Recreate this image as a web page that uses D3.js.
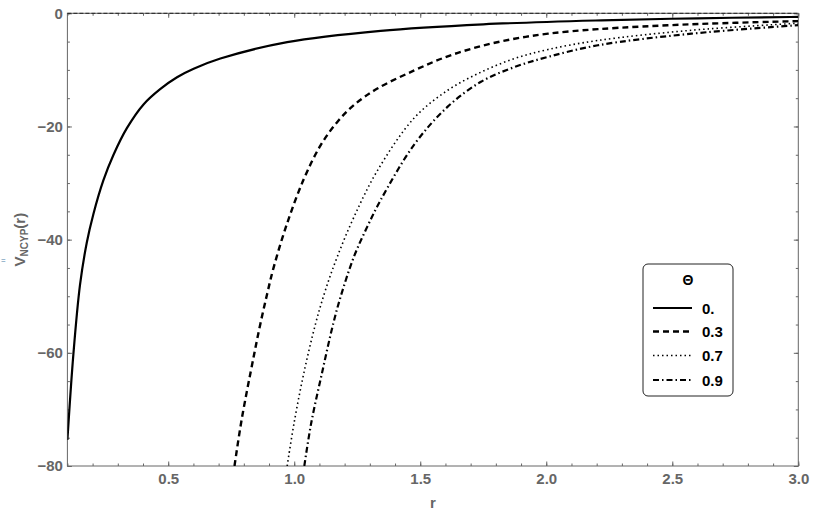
<!DOCTYPE html>
<html>
<head>
<meta charset="utf-8">
<script src="https://d3js.org/d3.v7.min.js"></script>
<style>
  body { margin: 0; background: #fff; }
  text { font-family: "Liberation Sans", Arial, sans-serif; font-weight: bold; }
</style>
</head>
<body>
<div id="chart"></div>
<script>
(function(d3) {
  'use strict';

  // values, r and V for each theta
  var thetaLabels = ['0.', '0.3', '0.7', '0.9'];

  var r0 = [0.1, 0.124, 0.15, 0.177, 0.203, 0.243, 0.283, 0.336, 0.402, 0.468, 0.535, 0.601, 0.707, 0.972, 1.343, 1.75, 2.219, 2.6, 2.97, 3.0];
  var v0 = [-75.4, -60.1, -48.0, -40.5, -35.5, -29.5, -25.0, -20.3, -16.1, -13.4, -11.3, -9.8, -8.0, -5.1, -3.1, -1.95, -1.24, -0.88, -0.65, -0.63];

  var r3 = [0.763, 0.791, 0.839, 0.866, 0.893, 0.919, 0.972, 1.038, 1.105, 1.171, 1.237, 1.33, 1.476, 1.609, 1.741, 1.874, 2.007, 2.205, 2.576, 3.0];
  var v3 = [-80, -71.9, -60.7, -54.8, -49.5, -44.8, -37.1, -29.3, -23.3, -19.2, -16.2, -13.3, -10.1, -7.6, -5.8, -4.5, -3.6, -2.8, -1.94, -1.38];

  var r7 = [0.972, 0.999, 1.038, 1.085, 1.124, 1.171, 1.237, 1.33, 1.476, 1.609, 1.741, 1.874, 2.007, 2.205, 2.576, 3.0];
  var v7 = [-80, -72.5, -63.6, -54.8, -48.9, -43.0, -36.0, -27.8, -18.5, -13.6, -10.4, -8.0, -6.4, -4.8, -3.0, -1.75];

  var r9 = [1.040, 1.067, 1.110, 1.155, 1.184, 1.237, 1.290, 1.343, 1.476, 1.609, 1.741, 1.874, 2.007, 2.205, 2.576, 3.0];
  var v9 = [-80, -72.5, -63.6, -54.8, -50.1, -43.0, -37.7, -33.0, -23.2, -16.5, -12.1, -9.5, -7.7, -5.65, -3.6, -2.1];

  var xTicks = [0.5, 1.0, 1.5, 2.0, 2.5, 3.0];
  var yTicks = [0, -20, -40, -60, -80];

  var width = 839;
  var height = 513;
  var left = 67.4, right = 798.3, top = 13.3, bottom = 466;

  var x = d3.scaleLinear().domain([0.1, 3.0]).range([left, right]);
  var y = d3.scaleLinear().domain([-80, 0]).range([bottom, top]);

  var svg = d3.select('#chart')
    .append('svg')
    .attr('width', width)
    .attr('height', height);

  svg.append('defs').append('clipPath')
    .attr('id', 'plot-clip')
    .append('rect')
    .attr('x', left)
    .attr('y', top)
    .attr('width', right - left)
    .attr('height', bottom - top);

  var axisColor = '#666';
  var xMinor = d3.range(1, 31).map(function(i) { return i / 10; });
  var yMinor = d3.range(0, 17).map(function(i) { return -5 * i; });

  function styleAxis(g) {
    g.select('.domain').remove();
    g.selectAll('line').attr('stroke', axisColor);
    g.selectAll('text')
      .attr('fill', axisColor)
      .style('font-size', '15px');
  }

  // minor ticks on all four sides
  svg.append('g').attr('transform', 'translate(0,' + bottom + ')')
    .call(d3.axisBottom(x).tickValues(xMinor).tickSize(-2.5).tickFormat(''))
    .call(styleAxis);
  svg.append('g').attr('transform', 'translate(0,' + top + ')')
    .call(d3.axisTop(x).tickValues(xMinor).tickSize(-2.5).tickFormat(''))
    .call(styleAxis);
  svg.append('g').attr('transform', 'translate(' + left + ',0)')
    .call(d3.axisLeft(y).tickValues(yMinor).tickSize(-2.5).tickFormat(''))
    .call(styleAxis);
  svg.append('g').attr('transform', 'translate(' + right + ',0)')
    .call(d3.axisRight(y).tickValues(yMinor).tickSize(-2.5).tickFormat(''))
    .call(styleAxis);

  // major ticks with labels
  svg.append('g').attr('transform', 'translate(0,' + bottom + ')')
    .call(d3.axisBottom(x).tickValues(xTicks).tickSize(-4.5).tickPadding(7.5).tickFormat(d3.format('.1f')))
    .call(styleAxis);
  svg.append('g').attr('transform', 'translate(0,' + top + ')')
    .call(d3.axisTop(x).tickValues(xTicks).tickSize(-4.5).tickFormat(''))
    .call(styleAxis);
  svg.append('g').attr('transform', 'translate(' + left + ',0)')
    .call(d3.axisLeft(y).tickValues(yTicks).tickSize(-4.5).tickPadding(4.5).tickFormat(d3.format('d')))
    .call(styleAxis);
  svg.append('g').attr('transform', 'translate(' + right + ',0)')
    .call(d3.axisRight(y).tickValues(yTicks).tickSize(-4.5).tickFormat(''))
    .call(styleAxis);

  // frame
  svg.append('rect')
    .attr('x', left)
    .attr('y', top)
    .attr('width', right - left)
    .attr('height', bottom - top)
    .attr('fill', 'none')
    .attr('stroke', axisColor)
    .attr('stroke-width', 1);

  // V = 0 line along the top
  svg.append('line')
    .attr('x1', left).attr('x2', right)
    .attr('y1', y(0)).attr('y2', y(0))
    .attr('stroke', '#222')
    .attr('stroke-width', 1)
    .attr('stroke-dasharray', '4,2');

  var series = [
    { label: thetaLabels[0], r: r0, v: v0, dash: null, w: 2.2 },
    { label: thetaLabels[1], r: r3, v: v3, dash: '6,4', w: 2.4 },
    { label: thetaLabels[2], r: r7, v: v7, dash: '1.5,3', w: 1.6 },
    { label: thetaLabels[3], r: r9, v: v9, dash: '6,3,1.5,3', w: 2.2 }
  ];

  var line = d3.line()
    .x(function(d) { return x(d[0]); })
    .y(function(d) { return y(d[1]); })
    .curve(d3.curveCatmullRom.alpha(0.5));

  svg.append('g')
    .attr('clip-path', 'url(#plot-clip)')
    .selectAll('path')
    .data(series)
    .enter()
    .append('path')
    .attr('d', function(s) { return line(d3.zip(s.r, s.v)); })
    .attr('fill', 'none')
    .attr('stroke', '#000')
    .attr('stroke-width', function(s) { return s.w; })
    .attr('stroke-dasharray', function(s) { return s.dash; });

  // axis labels
  svg.append('text')
    .attr('x', (left + right) / 2)
    .attr('y', 508)
    .attr('text-anchor', 'middle')
    .attr('fill', axisColor)
    .style('font-size', '15px')
    .text('r');

  var yLabel = svg.append('text')
    .attr('transform', 'translate(25,' + ((top + bottom) / 2) + ') rotate(-90)')
    .attr('text-anchor', 'middle')
    .attr('fill', axisColor)
    .style('font-size', '15px');
  yLabel.append('tspan').text('V');
  yLabel.append('tspan').attr('dy', 3).style('font-size', '10px').text('NCYP');
  yLabel.append('tspan').attr('dy', -3).text('(r)');

  svg.append('text')
    .attr('x', 1)
    .attr('y', 263)
    .attr('fill', '#4a7fa8')
    .style('font-size', '8px')
    .style('font-weight', 'normal')
    .text('=');

  // legend
  var legend = svg.append('g').attr('class', 'legend');
  legend.append('rect')
    .attr('x', 643)
    .attr('y', 264)
    .attr('width', 90)
    .attr('height', 132)
    .attr('rx', 5)
    .attr('fill', '#fff')
    .attr('stroke', '#222')
    .attr('stroke-width', 1);
  legend.append('text')
    .attr('x', 688)
    .attr('y', 285)
    .attr('text-anchor', 'middle')
    .attr('fill', '#000')
    .style('font-size', '14px')
    .text('Θ');

  var rowY = [308, 331.5, 355.5, 380];
  var rows = legend.selectAll('.row')
    .data(series)
    .enter()
    .append('g')
    .attr('class', 'row')
    .attr('transform', function(d, i) { return 'translate(0,' + rowY[i] + ')'; });
  rows.append('line')
    .attr('x1', 653).attr('x2', 692)
    .attr('stroke', '#000')
    .attr('stroke-width', function(s) { return s.w; })
    .attr('stroke-dasharray', function(s) { return s.dash; });
  rows.append('text')
    .attr('x', 702)
    .attr('y', 5.5)
    .attr('fill', '#000')
    .style('font-size', '15px')
    .text(function(s) { return s.label; });

})(window.d3);
</script>
</body>
</html>
